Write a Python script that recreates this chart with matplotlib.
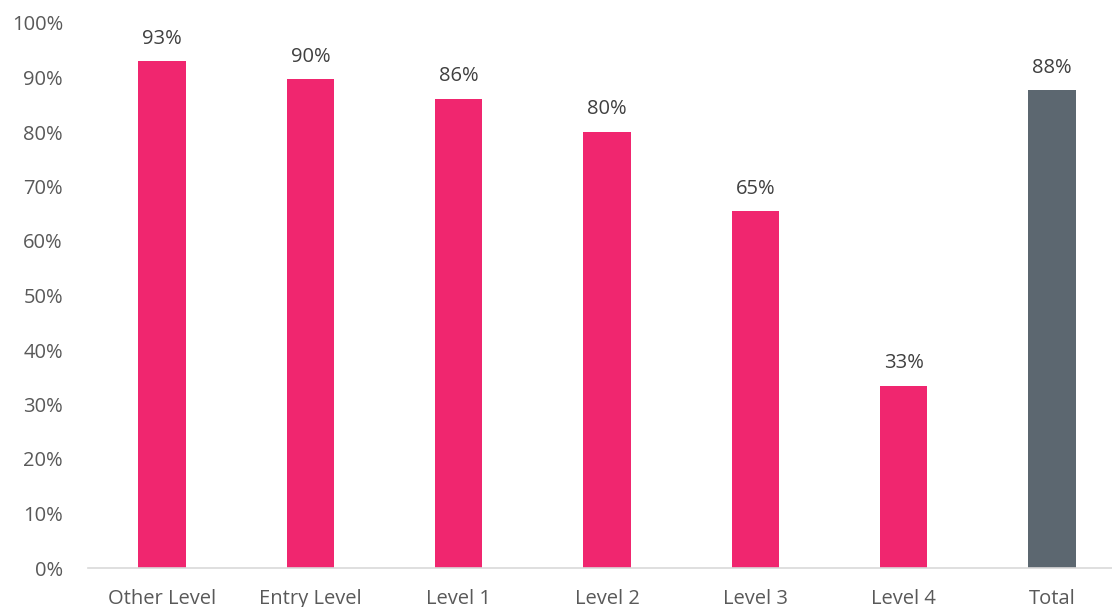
import matplotlib
matplotlib.use('Agg')
from matplotlib import pyplot as plt
from matplotlib.ticker import PercentFormatter

categories = ['Other Level', 'Entry Level', 'Level 1', 'Level 2', 'Level 3', 'Level 4', 'Total']
values = [93.0, 89.7, 86.1, 80.0, 65.5, 33.4, 87.7]
labels = ['93%', '90%', '86%', '80%', '65%', '33%', '88%']

PINK = '#F0266F'
GREY = '#5C6770'
TEXT = '#595959'

plt.rcParams['font.family'] = ['Open Sans', 'DejaVu Sans']

fig = plt.figure(figsize=(11.12, 6.07), dpi=100)
# the right edge of the plot area runs past the image, as in the original crop
ax = fig.add_axes([88 / 1112, 39 / 607, 1038 / 1112, 545 / 607])

colors = [PINK] * (len(categories) - 1) + [GREY]
x = range(len(categories))
bars = ax.bar(x, values, width=0.32, color=colors)

for bar, text in zip(bars, labels):
    ax.annotate(text, (bar.get_x() + bar.get_width() / 2, bar.get_height()),
                xytext=(0, 9), textcoords='offset points',
                ha='center', va='bottom', fontsize=14.5, color='#404040')

ax.set_xlim(-0.5, len(categories) - 0.5)
ax.set_ylim(0, 100)
ax.set_yticks(range(0, 101, 10))
ax.yaxis.set_major_formatter(PercentFormatter(decimals=0))
ax.set_xticks(list(x))
ax.set_xticklabels(categories)

for side in ['top', 'right', 'left']:
    ax.spines[side].set_visible(False)
ax.spines['bottom'].set_color('#D9D9D9')
ax.spines['bottom'].set_linewidth(1.2)
ax.tick_params(axis='both', length=0, labelsize=14.5, labelcolor=TEXT)
ax.tick_params(axis='x', pad=15)
ax.tick_params(axis='y', pad=18)

fig.savefig('out.png', dpi=100)
